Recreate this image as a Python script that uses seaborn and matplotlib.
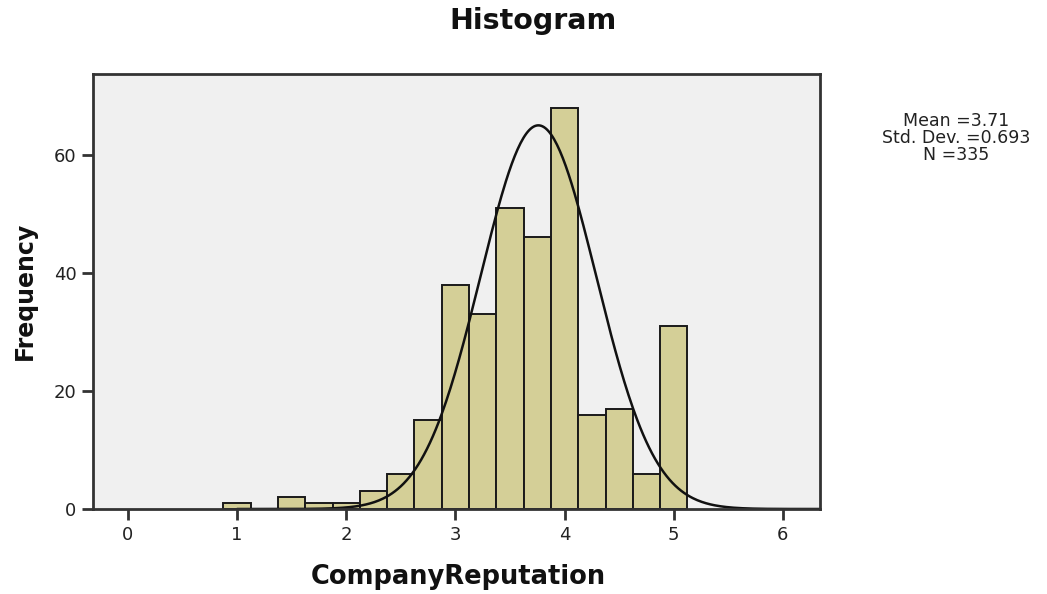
import numpy as np
import pandas as pd
import matplotlib
matplotlib.use("Agg")
import matplotlib.pyplot as plt
import seaborn as sns

# ---- data ----
bin_centers = [1.0, 1.25, 1.5, 1.75, 2.0, 2.25, 2.5, 2.75, 3.0, 3.25, 3.5, 3.75,
               4.0, 4.25, 4.5, 4.75, 5.0]
counts = [1, 0, 2, 1, 1, 3, 6, 15, 38, 33, 51, 46, 68, 16, 17, 6, 31]
bin_width = 0.25
x_ticks = [0, 1, 2, 3, 4, 5, 6]
y_ticks = [0, 20, 40, 60]
stats_text = "Mean =3.71\nStd. Dev. =0.693\nN =335"
# fitted normal curve as drawn in the reference
curve_mean = 3.76
curve_sd = 0.53
curve_peak = 65.0

sns.set_theme(style="white")
plt.rcParams["font.family"] = ["DejaVu Sans"]

fig = plt.figure(figsize=(10.47, 5.94), dpi=100)
ax = fig.add_axes([93 / 1047, 1 - 509 / 594, (820 - 93) / 1047, (509 - 74) / 594])
ax.set_facecolor("#f0f0f0")

df = pd.DataFrame({"value": bin_centers, "count": counts})
edges = [float(e) for e in np.arange(bin_centers[0] - bin_width / 2,
                                     bin_centers[-1] + bin_width, bin_width)]
sns.histplot(data=df, x="value", weights="count", bins=edges, ax=ax,
             color="#d4cf97", edgecolor="#1a1a1a", linewidth=1.4, alpha=1.0)

xc = np.linspace(1.0, 6.34, 400)
yc = curve_peak * np.exp(-0.5 * ((xc - curve_mean) / curve_sd) ** 2)
sns.lineplot(x=xc, y=yc, ax=ax, color="#111111", linewidth=1.8)

ax.set_xlim(-0.32, 6.34)
ax.set_ylim(0, 73.7)
ax.set_xticks(x_ticks)
ax.set_yticks(y_ticks)
ax.tick_params(axis="both", which="major", bottom=True, left=True, top=False, right=False,
               direction="out", length=8, width=2, color="#333333",
               labelsize=13, labelcolor="#222222", pad=4)
for s in ax.spines.values():
    s.set_visible(True)
    s.set_color("#333333")
    s.set_linewidth(2)

ax.set_xlabel("")
ax.set_ylabel("")
fig.text(458 / 1047, 1 - 577 / 594, "CompanyReputation", ha="center", va="center",
         fontsize=18.5, fontweight="bold", color="#111111")
fig.text(25 / 1047, 1 - 291 / 594, "Frequency", ha="center", va="center",
         rotation=90, fontsize=17, fontweight="bold", color="#111111")
fig.text(533 / 1047, 1 - 21 / 594, "Histogram", ha="center", va="center",
         fontsize=20.5, fontweight="bold", color="#111111")
fig.text(956 / 1047, 1 - 138 / 594, stats_text, ha="center", va="center",
         fontsize=12.5, linespacing=0.9, color="#222222")

fig.savefig("out.png", dpi=100, facecolor="white")
